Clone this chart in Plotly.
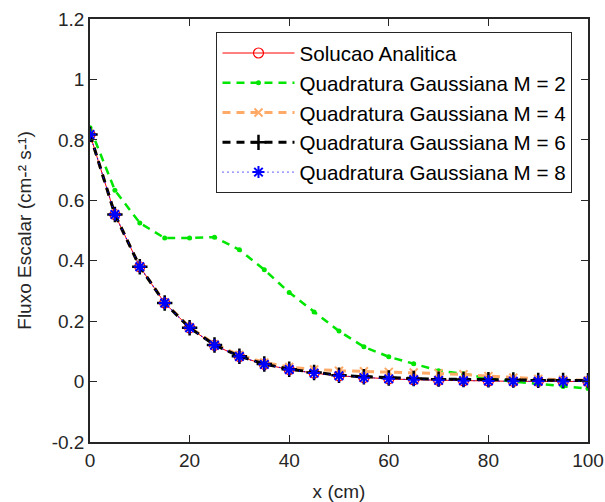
import plotly.graph_objects as go

x = [0, 5, 10, 15, 20, 25, 30, 35, 40, 45, 50, 55, 60, 65, 70, 75, 80, 85, 90, 95, 100]

analitica = [0.818, 0.553, 0.380, 0.260, 0.178, 0.120, 0.083, 0.057, 0.040, 0.028,
             0.019, 0.013, 0.009, 0.006, 0.004, 0.003, 0.002, 0.001, 0.001, 0.0005, 0.0003]
m2 = [0.840, 0.633, 0.525, 0.475, 0.475, 0.478, 0.436, 0.370, 0.295, 0.230,
      0.167, 0.115, 0.082, 0.059, 0.036, 0.026, 0.010, 0.000, -0.007, -0.016, -0.023]
m4 = [0.818, 0.553, 0.380, 0.262, 0.180, 0.124, 0.088, 0.063, 0.048, 0.040,
      0.036, 0.034, 0.032, 0.030, 0.028, 0.024, 0.018, 0.013, 0.009, 0.006, 0.004]
m6 = [0.818, 0.553, 0.380, 0.260, 0.178, 0.121, 0.084, 0.058, 0.041, 0.030,
      0.021, 0.016, 0.012, 0.010, 0.008, 0.007, 0.006, 0.005, 0.004, 0.004, 0.003]
m8 = [0.818, 0.553, 0.380, 0.260, 0.178, 0.120, 0.083, 0.057, 0.040, 0.028,
      0.019, 0.013, 0.009, 0.006, 0.004, 0.003, 0.002, 0.001, 0.001, 0.0005, 0.0003]

names = ["Solucao Analitica", "Quadratura Gaussiana M = 2", "Quadratura Gaussiana M = 4",
         "Quadratura Gaussiana M = 6", "Quadratura Gaussiana M = 8"]

y_ticks = [-0.2, 0, 0.2, 0.4, 0.6, 0.8, 1.0, 1.2]
y_tick_text = ["-0.2", "0", "0.2", "0.4", "0.6", "0.8", "1", "1.2"]
x_ticks = [0, 20, 40, 60, 80, 100]

FONT = "Liberation Sans, Arial, sans-serif"

fig = go.Figure()
fig.add_trace(go.Scatter(x=x, y=analitica, name=names[0], mode="lines+markers",
                         line=dict(color="#ff0000", width=1),
                         marker=dict(symbol="circle-open", size=10, color="#ff0000",
                                     line=dict(width=1.2, color="#ff0000"))))
fig.add_trace(go.Scatter(x=x, y=m2, name=names[1], mode="lines+markers",
                         line=dict(color="#00e600", width=2.5, dash="8px,6px"),
                         marker=dict(symbol="circle", size=5, color="#00e600")))
fig.add_trace(go.Scatter(x=x, y=m4, name=names[2], mode="lines+markers",
                         line=dict(color="#ffaa66", width=3, dash="8px,6px"),
                         marker=dict(symbol="x-thin-open", size=8, color="#ffaa66",
                                     line=dict(width=2, color="#ffaa66"))))
fig.add_trace(go.Scatter(x=x, y=m6, name=names[3], mode="lines+markers",
                         line=dict(color="#000000", width=3, dash="8px,6px"),
                         marker=dict(symbol="cross-thin-open", size=11, color="#000000",
                                     line=dict(width=2.5, color="#000000"))))
fig.add_trace(go.Scatter(x=x, y=m8, name=names[4], mode="lines+markers",
                         line=dict(color="#0000ff", width=1.2, dash="1px,4px"),
                         marker=dict(symbol="asterisk-open", size=10, color="#0000ff",
                                     line=dict(width=2, color="#0000ff"))))

axis_common = dict(showline=True, linecolor="#262626", linewidth=1.5, mirror="ticks",
                   ticks="inside", ticklen=7, tickwidth=1.2, tickcolor="#262626",
                   showgrid=False, zeroline=False, automargin=False,
                   tickfont=dict(family=FONT, size=19, color="#262626"))

fig.update_xaxes(range=[0, 100], tickvals=x_ticks,
                 title=dict(text="x (cm)", font=dict(family=FONT, size=19, color="#262626")),
                 **axis_common)
fig.update_yaxes(range=[-0.2, 1.2], tickvals=y_ticks, ticktext=y_tick_text,
                 title=dict(text="Fluxo Escalar (cm-² s-¹)", font=dict(family=FONT, size=19, color="#262626")),
                 **axis_common)

fig.update_layout(
    width=605, height=502,
    margin=dict(l=90, r=17, t=19, b=60),
    paper_bgcolor="white", plot_bgcolor="white",
    font=dict(family=FONT, size=19, color="#262626"),
    showlegend=True,
    legend=dict(x=0.254, y=0.969, xanchor="left", yanchor="top",
                bgcolor="white", bordercolor="#262626", borderwidth=1,
                font=dict(family=FONT, size=20.6, color="#000000"),
                tracegroupgap=0, itemwidth=72),
)

fig.write_html(
    "out.html",
    config={"displayModeBar": False},
    post_script="document.body.style.margin='0';document.body.style.padding='0';"
                "document.body.style.overflow='hidden';",
)
